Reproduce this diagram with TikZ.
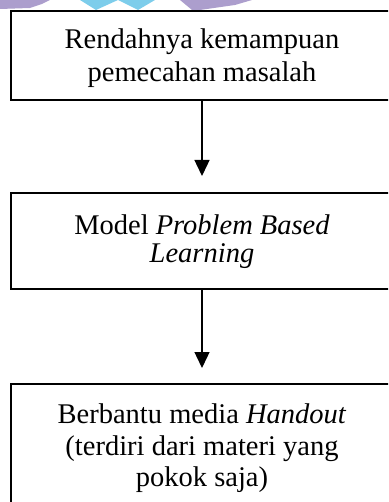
\documentclass[tikz,border=0pt]{standalone}
\usepackage{fontspec}
\setmainfont{Liberation Serif}
\usetikzlibrary{arrows.meta}
\definecolor{wmpurple}{RGB}{172,158,205}
\definecolor{wmcyan}{RGB}{125,205,235}
\begin{document}
\begin{tikzpicture}[x=1pt,y=-1pt,
  box/.style={draw=black,line width=1.3pt},
  txt/.style={anchor=base,inner sep=0pt,font=\fontsize{28.5}{34}\selectfont},
  arr/.style={line width=1.4pt,-{Triangle[width=15pt,length=16pt]}}]
\useasboundingbox (0,0) rectangle (388,502);
\clip (0,0) rectangle (388,502);
% watermark fragments
\fill[wmpurple] (0,0) -- (50,0) -- (42,4) -- (30,8) -- (0,9) -- cycle;
\fill[wmcyan] (80,0) -- (118,0) -- (96,10) -- cycle;
\fill[wmcyan] (118,0) -- (155,0) -- (138,10) -- cycle;
\fill[wmpurple] (180,0) -- (252,0) -- (235,5) -- (200,10) -- (192,10) -- cycle;
% boxes
\draw[box] (11,11) rectangle (393,100);
\draw[box] (11,193) rectangle (393,289);
\draw[box] (11,384) rectangle (393,530);
\coordinate (b1) at (202,100);
\coordinate (b2) at (202,289);
\coordinate (a1) at (202,176);
\coordinate (a2) at (202,368);
\draw[arr] (b1) -- (a1);
\draw[arr] (b2) -- (a2);
% texts
\node[txt] (t1a) at (202,49) {Rendahnya kemampuan};
\node[txt] (t1b) at (202,82) {pemecahan masalah};
\node[txt] (t2a) at (202,234) {Model \textit{Problem Based}};
\node[txt] (t2b) at (202,262) {\textit{Learning}};
\node[txt] (t3a) at (202,423) {Berbantu media \textit{Handout}};
\node[txt] (t3b) at (202,455) {(terdiri dari materi yang};
\node[txt] (t3c) at (202,486) {pokok saja)};
\end{tikzpicture}
\end{document}
